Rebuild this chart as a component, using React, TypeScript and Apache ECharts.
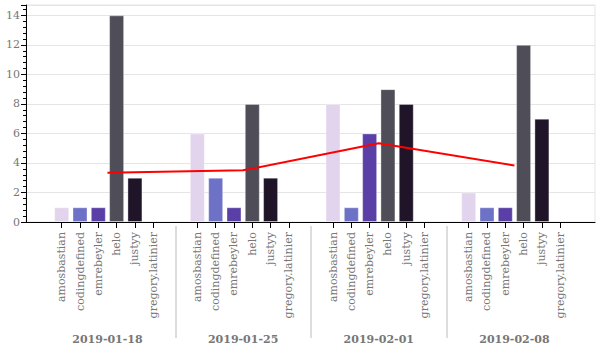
import React, { useEffect, useRef } from "react";
import * as echarts from "echarts";

const DATES = ["2019-01-18", "2019-01-25", "2019-02-01", "2019-02-08"];
const USERS = ["amosbastian", "codingdefined", "emrebeyler", "helo", "justyy", "gregory.latinier"];
const USER_COLORS = ["#e3d4ee", "#6d72c6", "#5a3fa7", "#4f4d58", "#1f1428", "#888888"];
const VALUES_0118 = [1, 1, 1, 14, 3, 0];
const VALUES_0125 = [6, 3, 1, 8, 3, 0];
const VALUES_0201 = [8, 1, 6, 9, 8, 0];
const VALUES_0208 = [2, 1, 1, 12, 7, 0];
const GROUP_VALUES = [VALUES_0118, VALUES_0125, VALUES_0201, VALUES_0208];
const AVERAGES = [3.33, 3.5, 5.33, 3.83];

const STRIDE = 7.41;
const FONT = "DejaVu Serif";

export default function App() {
  const ref = useRef<HTMLDivElement>(null);
  useEffect(() => {
    document.body.style.margin = "0";
    if (!ref.current) return;
    const chart = echarts.init(ref.current, undefined, { renderer: "svg" });

    const positions: number[] = [];
    const names: string[] = [];
    const barData: any[] = [];
    GROUP_VALUES.forEach((vals, g) => {
      vals.forEach((v, i) => {
        const x = +(g * STRIDE + i).toFixed(3);
        positions.push(x);
        names.push(USERS[i]);
        barData.push({
          value: [x, v],
          itemStyle: {
            color: USER_COLORS[i],
            borderColor: v > 0 ? "rgba(255,255,255,0.35)" : "transparent",
            borderWidth: v > 0 ? 1 : 0,
          },
        });
      });
    });
    const centers = DATES.map((_, g) => +(g * STRIDE + 2.5).toFixed(3));
    const seps = DATES.slice(1).map((_, g) => +(g * STRIDE + 5 + (STRIDE - 5) / 2).toFixed(3));
    const xmin = -1.95;
    const xmax = +(3 * STRIDE + 5 + 1.9).toFixed(3);

    const nearest = (v: number, arr: number[]) => {
      let best = 0;
      let bd = Infinity;
      arr.forEach((a, i) => {
        const d = Math.abs(a - v);
        if (d < bd) {
          bd = d;
          best = i;
        }
      });
      return best;
    };

    chart.setOption({
      animation: false,
      grid: {
        left: 26,
        right: 5,
        top: 5,
        bottom: 128,
        show: true,
        borderColor: "#e5e5e5",
        borderWidth: 1,
        containLabel: false,
      },
      xAxis: [
        {
          type: "value",
          min: xmin,
          max: xmax,
          position: "bottom",
          splitLine: { show: false },
          axisLine: { show: true, onZero: false, lineStyle: { color: "#000", width: 1 } },
          axisTick: {
            show: true,
            customValues: positions,
            length: 6,
            lineStyle: { color: "#000" },
          },
          axisLabel: {
            show: true,
            customValues: positions,
            rotate: 90,
            margin: 10,
            fontSize: 11,
            fontFamily: FONT,
            color: "#777",
            formatter: (v: number) => names[nearest(v, positions)],
          },
        },
        {
          type: "value",
          min: xmin,
          max: xmax,
          position: "bottom",
          offset: 4,
          splitLine: { show: false },
          axisLine: { show: false, onZero: false },
          axisTick: {
            show: true,
            customValues: seps,
            length: 112,
            lineStyle: { color: "#dddddd", width: 2 },
          },
          axisLabel: {
            show: true,
            customValues: centers,
            margin: 108,
            fontSize: 11,
            fontWeight: "bold",
            fontFamily: FONT,
            color: "#777",
            formatter: (v: number) => DATES[nearest(v, centers)],
          },
        },
      ],
      yAxis: {
        type: "value",
        min: 0,
        max: 14.7,
        interval: 2,
        position: "left",
        axisLine: { show: true, onZero: false, lineStyle: { color: "#000" } },
        axisTick: { show: true, length: 5, lineStyle: { color: "#000" } },
        minorTick: { show: true, splitNumber: 5, length: 3, lineStyle: { color: "#000" } },
        splitLine: { show: true, lineStyle: { color: "#e5e5e5" } },
        axisLabel: {
          fontSize: 11,
          fontFamily: FONT,
          color: "#777",
          margin: 6,
          formatter: (v: number) => (Math.abs(v / 2 - Math.round(v / 2)) < 1e-6 ? String(v) : ""),
        },
      },
      series: [
        {
          type: "bar",
          xAxisIndex: 0,
          barWidth: 15,
          data: barData,
        },
        {
          type: "line",
          xAxisIndex: 0,
          data: AVERAGES.map((a, g) => [centers[g], a]),
          symbol: "none",
          lineStyle: { color: "#ff0000", width: 2 },
          z: 5,
        },
      ],
    });
    return () => chart.dispose();
  }, []);
  return <div ref={ref} style={{ position: "absolute", left: 0, top: 0, width: 600, height: 350 }} />;
}
